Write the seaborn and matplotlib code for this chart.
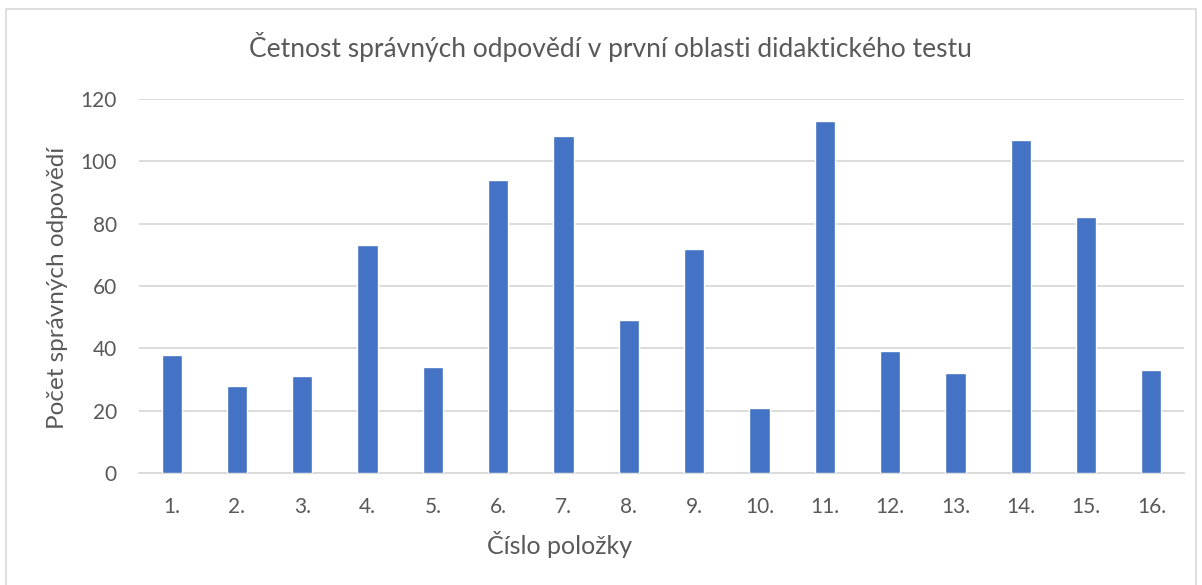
import matplotlib
matplotlib.use("Agg")
import matplotlib.pyplot as plt
import seaborn as sns
import pandas as pd
from matplotlib.patches import Rectangle

# Data
polozky = ["1.", "2.", "3.", "4.", "5.", "6.", "7.", "8.",
           "9.", "10.", "11.", "12.", "13.", "14.", "15.", "16."]
pocty = [38, 28, 31, 73, 34, 94, 108, 49, 72, 21, 113, 39, 32, 107, 82, 33]
y_ticks = [0, 20, 40, 60, 80, 100, 120]

data = pd.DataFrame({"Položka": polozky, "Počet": pocty})

sns.set_style("white")
plt.rcParams['font.family'] = ['Lato', 'DejaVu Sans']

text_col = "#595959"
bar_col = "#4472C4"
grid_col = "#D9D9D9"

W, H = 1202, 585
fig = plt.figure(figsize=(W / 100, H / 100), dpi=100)
ax = fig.add_axes([139 / W, 1 - 473 / H, (1184 - 139) / W, (473 - 99) / H])

# Rámeček grafu
fig.patches.append(Rectangle((6 / W, -0.01), (1196 - 6) / W, 1 - 9 / H + 0.01,
                             transform=fig.transFigure, fill=False,
                             edgecolor=grid_col, linewidth=1.2))

sns.barplot(data=data, x="Položka", y="Počet", color=bar_col, width=0.31,
            saturation=1, ax=ax, zorder=3)

ax.set_ylim(0, 120)
ax.set_yticks(y_ticks)
ax.set_xlim(-0.5, len(polozky) - 0.5)
ax.yaxis.grid(True, color=grid_col, linewidth=1.3, zorder=0)
ax.xaxis.grid(False)
for s in ["top", "right", "left"]:
    ax.spines[s].set_visible(False)
ax.spines["bottom"].set_color(grid_col)
ax.spines["bottom"].set_linewidth(1.3)
ax.tick_params(axis="both", length=0, labelsize=15, colors=text_col)
ax.tick_params(axis="y", pad=16)
ax.tick_params(axis="x", pad=17)
ax.set_xlabel("")
ax.set_ylabel("")

# popisky os a nadpis
fig.text(560 / W, 1 - 545 / H, "Číslo položky", ha="center", va="center",
         fontsize=18, color=text_col)
fig.text(57 / W, 1 - 288 / H, "Počet správných odpovědí", ha="center", va="center",
         rotation=90, fontsize=17.5, color=text_col)
fig.text(610 / W, 1 - 47 / H, "Četnost správných odpovědí v první oblasti didaktického testu",
         ha="center", va="center", fontsize=19, color=text_col)

fig.savefig("out.png", dpi=100, facecolor="white")
